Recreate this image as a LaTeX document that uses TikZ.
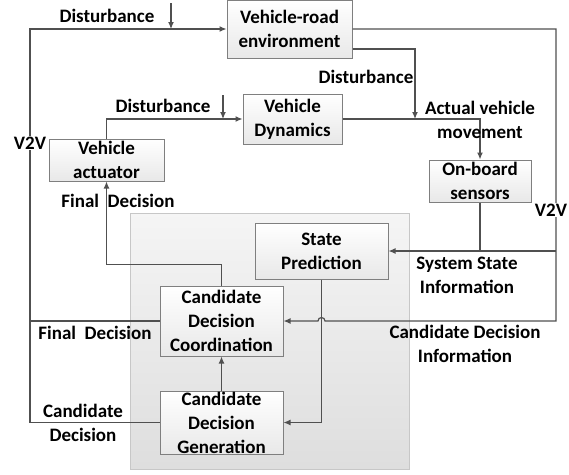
\documentclass[tikz,border=0pt]{standalone}
\usepackage{fontspec}
\setmainfont{Carlito}
\usetikzlibrary{arrows.meta}
\definecolor{wire}{HTML}{505050}
\definecolor{frame}{HTML}{7F7F7F}
\begin{document}
\begin{tikzpicture}[x=1pt,y=-1pt,
  every node/.style={font=\bfseries\fontsize{19}{24}\selectfont, align=center, inner sep=0pt},
  block/.style={draw=frame, line width=1pt, top color=white, bottom color=black!9,
    minimum width=#1},
  flow/.style={draw=wire, line width=1.2pt},
  tip/.style={-{Latex[length=7pt,width=6pt]}},
  lbl/.style={},
  gap/.style={fill=white, inner sep=1pt}]
\useasboundingbox (0,0) rectangle (569,474);

% shaded panel holding the decision modules
\draw[draw=black!22, line width=1pt, top color=black!4, bottom color=black!13]
  (130,213) rectangle (409,469);

% blocks
\node[block=125pt, minimum height=58pt] (vre) at (289.5,29) {Vehicle-road\\environment};
\node[block=99pt,  minimum height=50pt] (dyn) at (292.5,119) {Vehicle\\Dynamics};
\node[block=115pt, minimum height=42pt] (act) at (106.5,160) {Vehicle\\actuator};
\node[block=102pt, minimum height=42pt] (obs) at (480,181) {On-board\\sensors};
\node[block=133pt, minimum height=56pt] (sp)  at (321.5,251) {State\\Prediction};
\node[block=123pt, minimum height=70pt] (cdc) at (221.5,321) {Candidate\\Decision\\Coordination};
\node[block=123pt, minimum height=63pt] (cdg) at (221.5,422.5) {Candidate\\Decision\\Generation};

% helper coordinates
\coordinate (bus) at (30,0);
\coordinate (rbus) at (556,0);
\coordinate (d1) at (171,3);
\coordinate (d2) at (223,95);

% left V2V bus
\draw[flow, tip] (cdg.west) -- (cdg.west -| bus) |- (vre.west);
\draw[flow] (cdc.west) -- (cdc.west -| bus);
\draw[flow, tip] (d1) -- (d1 |- vre.west);

% actuator to vehicle dynamics
\draw[flow, tip] (act.north) |- (dyn.west);
\draw[flow, tip] (d2) -- (d2 |- dyn.west);

% vehicle movement to sensors
\draw[flow, tip] (dyn.east) -| (obs.north);
\draw[flow, tip] ([yshift=-20pt]vre.east) -| (415,119);

% right V2V bus with a hop over the prediction line
\draw[flow, tip] (vre.east) -| (rbus |- cdc.east) -- ([xshift=3.5pt]sp.south |- cdc.east)
  arc[start angle=0, end angle=180, radius=3.5pt] -- (cdc.east);
\draw[flow] (rbus |- sp.east) -- (obs.south |- sp.east);

% sensors to prediction
\draw[flow, tip] (obs.south) |- (sp.east);

% prediction to generation, generation to coordination
\draw[flow, tip] (sp.south) |- (cdg.east);
\draw[flow, tip] (cdg.north) -- (cdc.south);

% final decision back to the actuator
\draw[flow, tip] (cdc.north) -- ++(0,-21) -| (act.south);

% labels
\node[lbl] (l1) at (107,16) {Disturbance};
\node[lbl] (l2) at (163,106) {Disturbance};
\node[lbl] (l3) at (366,77) {Disturbance};
\node[lbl] (l4) at (480,119.5) {Actual vehicle\\movement};
\node[gap] (v1) at (30,143) {V2V};
\node[gap] (v2) at (551,210) {V2V};
\node[lbl] (l5) at (118,201) {Final\ \ Decision};
\node[lbl] (l6) at (467,275) {System State\\Information};
\node[lbl] (l7) at (95,333) {Final\ \ Decision};
\node[lbl] (l8) at (465,344) {Candidate Decision\\Information};
\node[lbl] (l9) at (83,422.5) {Candidate\\Decision};
\end{tikzpicture}
\end{document}
